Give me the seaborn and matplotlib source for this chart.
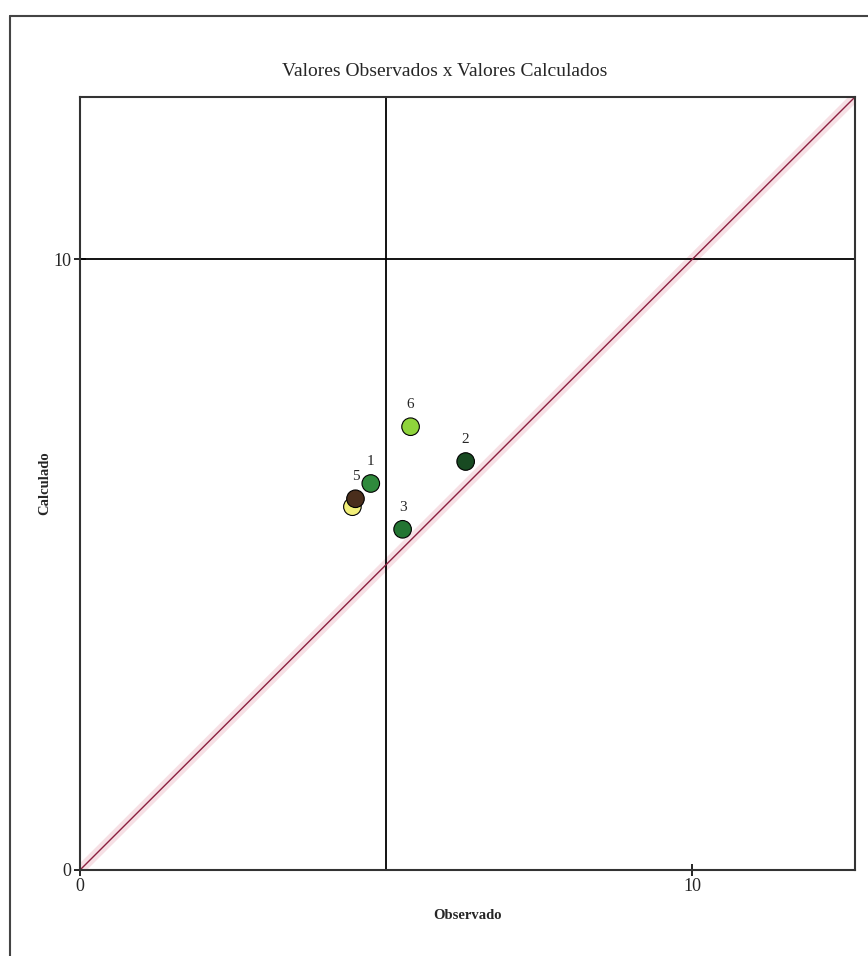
import matplotlib
matplotlib.use("Agg")
import matplotlib.pyplot as plt
import seaborn as sns
import pandas as pd
from matplotlib.lines import Line2D

# Data
ids = ["4", "5", "1", "3", "2", "6"]
observado = [4.45, 4.50, 4.75, 5.27, 6.30, 5.40]
calculado = [5.95, 6.08, 6.33, 5.58, 6.69, 7.26]
labels = ["", "5", "1", "3", "2", "6"]
colors = ["#f2ef7a", "#4a2e1c", "#2f8a3c", "#237532", "#184a22", "#8fd43c"]
ref_x = 5
ref_y = 10
ticks = [0, 10]

df = pd.DataFrame({"id": ids, "Observado": observado, "Calculado": calculado})

sns.set_theme(style="white")
plt.rcParams["font.family"] = ["Liberation Serif", "DejaVu Serif"]

fig = plt.figure(figsize=(8.68, 9.56), dpi=100)
ax = fig.add_axes([80/868, 1-870/956, 775/868, 773/956])

lim = 12.66
ax.set_xlim(0, lim)
ax.set_ylim(0, lim)

# diagonal with halo
ax.plot([0, lim], [0, lim], color="#f0c8d0", lw=7, alpha=0.55, zorder=1)
ax.plot([0, lim], [0, lim], color="#8b2040", lw=1, zorder=2)

ax.axvline(ref_x, color="black", lw=1.3, zorder=1)
ax.axhline(ref_y, color="black", lw=1.3, zorder=1)

sns.scatterplot(data=df, x="Observado", y="Calculado", hue="id",
                palette=dict(zip(ids, colors)), s=160, edgecolor="black",
                linewidth=0.8, legend=False, ax=ax, zorder=3)

for xv, yv, lb in zip(observado, calculado, labels):
    if lb:
        ax.annotate(lb, (xv, yv), xytext=(0, 11), textcoords="offset points",
                    ha="center", va="bottom", fontsize=11)

ax.set_xticks(ticks)
ax.set_yticks(ticks)
ax.set_xticklabels([str(t) for t in ticks], fontsize=13)
ax.set_yticklabels([str(t) for t in ticks], fontsize=13)
ax.tick_params(axis="both", direction="inout", length=8, width=1.2, color="black", pad=2,
               bottom=True, left=True)
for sp in ax.spines.values():
    sp.set_color("#333333")
    sp.set_linewidth(1.5)

ax.set_xlabel("Observado", fontsize=10.5, fontweight="bold", labelpad=10)
ax.set_ylabel("Calculado", fontsize=10.5, fontweight="bold", labelpad=2)
fig.text(445/868, 1-72/956, "Valores Observados x Valores Calculados",
         ha="center", va="center", fontsize=14)

# outer frame
fig.add_artist(Line2D([10/868, 10/868], [0, 1-16/956], color="#444444", lw=1.5,
                      transform=fig.transFigure))
fig.add_artist(Line2D([10/868, 1], [1-16/956, 1-16/956], color="#444444", lw=1.5,
                      transform=fig.transFigure))

fig.savefig("out.png", dpi=100)
